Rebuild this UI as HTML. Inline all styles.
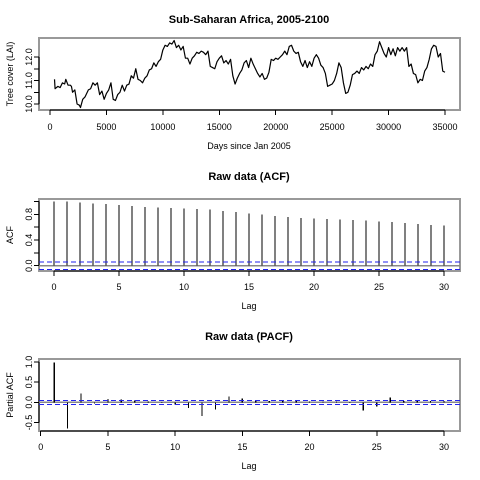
<!DOCTYPE html>
<html><head><meta charset="utf-8"><style>
html,body{margin:0;padding:0;background:#fff}
svg{display:block;font-family:"Liberation Sans",Arial,sans-serif}
line{shape-rendering:crispEdges}
</style></head><body>
<svg id="chart" width="480" height="480" viewBox="0 0 480 480" xmlns="http://www.w3.org/2000/svg"></svg>
<script>
// ---- data ----
const tsDays = [400,450,700,900,1100,1300,1400,1600,1800,1900,2000,2200,2400,2600,2700,2900,3100,3400,3600,3800,4000,4200,4400,4600,4800,5000,5200,5400,5600,5800,6000,6200,6400,6600,6800,7000,7200,7400,7600,7800,8000,8200,8400,8600,8800,9000,9200,9400,9600,9800,10000,10200,10400,10600,10800,11000,11200,11400,11600,11800,12000,12200,12400,12600,12800,13000,13200,13400,13600,13800,14000,14200,14400,14600,14800,15000,15200,15400,15600,15800,16000,16200,16400,16600,16800,17000,17200,17400,17600,17800,18000,18200,18400,18600,18800,19000,19200,19400,19600,19800,20000,20200,20400,20600,20800,21000,21200,21400,21600,21800,22000,22200,22400,22600,22800,23000,23200,23400,23600,23800,24000,24200,24400,24600,24800,25000,25200,25400,25600,25800,26000,26200,26400,26600,26800,27000,27200,27400,27600,27800,28000,28200,28400,28600,28800,29000,29200,29400,29600,29800,30000,30200,30400,30600,30800,31000,31200,31400,31600,31800,32000,32200,32400,32600,32800,33000,33200,33400,33600,33800,34000,34200,34400,34600,34800,35000];
const tsValues = [11.05,10.65,10.75,10.7,10.9,10.85,11.05,10.8,10.8,10.75,10.5,10.6,10.0,9.95,9.85,10.2,10.3,10.6,10.65,10.9,10.8,10.9,10.4,10.55,10.2,10.45,10.6,10.9,10.2,10.15,10.4,10.5,10.8,10.55,10.8,10.85,11.2,11.1,11.5,11.05,11.0,10.9,11.1,11.2,11.45,11.5,11.75,11.6,11.8,11.9,12.3,12.5,12.45,12.6,12.55,12.7,12.4,12.5,12.3,12.45,11.95,11.95,11.7,11.95,12.05,12.2,12.15,12.25,12.2,12.1,12.25,11.6,11.55,11.5,11.8,11.95,12.05,11.75,11.85,11.7,11.9,11.2,10.85,11.1,11.3,11.45,11.75,11.85,11.55,11.95,11.7,11.5,11.3,11.15,11.3,11.05,11.1,11.35,11.9,11.85,11.95,11.9,12.0,12.1,12.25,12.1,12.45,12.5,12.25,12.15,12.2,11.8,11.6,11.85,11.55,11.8,11.6,11.95,12.1,11.95,11.65,11.55,11.3,10.75,10.8,10.85,11.0,11.3,11.75,11.55,10.9,10.45,10.5,10.8,11.25,11.3,11.4,11.3,11.55,11.45,11.6,11.5,11.7,11.6,12.1,12.25,12.65,12.4,12.15,12.0,12.4,12.1,12.35,12.05,12.4,12.25,12.4,12.25,12.4,11.6,11.7,11.3,11.25,10.9,11.05,11.0,11.4,11.55,11.9,12.35,12.5,12.45,12.0,12.15,11.4,11.35];
const tsXTicks = [0,5000,10000,15000,20000,25000,30000,35000];
const tsYTicks = [10.0,10.5,11.0,11.5,12.0];
const tsYLabels = ["10.0","11.0","12.0"];

const acfLags = [0,1,2,3,4,5,6,7,8,9,10,11,12,13,14,15,16,17,18,19,20,21,22,23,24,25,26,27,28,29,30];
const acfValues = [1.0,0.997,0.987,0.971,0.961,0.945,0.93,0.914,0.904,0.899,0.894,0.883,0.873,0.852,0.836,0.816,0.795,0.774,0.758,0.743,0.738,0.727,0.722,0.712,0.706,0.691,0.681,0.665,0.649,0.634,0.629];
const acfCI = [0.06,-0.06];
const acfYTicks = [0,0.2,0.4,0.6,0.8,1.0];
const acfYLabels = ["0.0","0.4","0.8"];

const pacfLags = [1,2,3,4,5,6,7,8,9,10,11,12,13,14,15,16,17,18,19,20,21,22,23,24,25,26,27,28,29,30];
const pacfValues = [0.99,-0.65,0.22,-0.03,0.08,0.07,0.04,0.02,0.01,-0.06,-0.14,-0.34,-0.18,0.15,0.1,0.03,0.03,0.03,0.06,0.02,0.02,0.02,0.01,-0.2,-0.1,0.12,0.03,0.03,0.03,0.03];
const pacfCI = [0.05,-0.06];
const pacfYTicks = [-0.5,0,0.5,1.0];
const pacfYLabels = ["-0.5","0.0","0.5","1.0"];
const lagTicks = [0,5,10,15,20,25,30];

// ---- drawing ----
const svg = document.getElementById('chart');
const NS = 'http://www.w3.org/2000/svg';
function mk(tag, attrs, parent){const e=document.createElementNS(NS,tag);for(const k in attrs)e.setAttribute(k,attrs[k]);(parent||svg).appendChild(e);return e;}
function txt(s, x, y, size, opts, parent){
  const t=mk('text',Object.assign({x:x,y:y,'font-size':size,'text-anchor':'middle','dominant-baseline':'central',fill:'#000'},opts||{}),parent);
  t.textContent=s;return t;
}
const L=39,R=460;

function panel(name, title, titleY, top, bottom, xmin, xmax, ymin, ymax, xTicks, xLabelY, xTitle, xTitleY, yTicks, yLabels, yTitle){
  const g=mk('g',{});
  
  
  const xs=v=>xmin.px+(v-xmin.v)*(xmax.px-xmin.px)/(xmax.v-xmin.v);
  const ys=v=>ymin.px+(v-ymin.v)*(ymax.px-ymin.px)/(ymax.v-ymin.v);
  const t=txt(title,249,titleY,11,{'font-weight':'bold'},g);
  
  
  const box=mk('rect',{x:L,y:top,width:R-L,height:bottom-top,fill:'none',stroke:'#999','stroke-width':2},g);
  
  
  const xa=mk('g',{},g);
  
  
  mk('line',{x1:xs(xTicks[0]),x2:xs(xTicks[xTicks.length-1]),y1:bottom,y2:bottom,stroke:'#000','stroke-width':1},xa);
  xTicks.forEach(v=>{
    mk('line',{x1:xs(v),x2:xs(v),y1:bottom,y2:bottom+5,stroke:'#000','stroke-width':1},xa);
    const l=txt(String(v),xs(v),xLabelY,9,{},xa);
    
    
  });
  const xt=txt(xTitle,249,xTitleY,9,{},g);
  
  
  const ya=mk('g',{},g);
  
  
  mk('line',{x1:L,x2:L,y1:ys(yTicks[0]),y2:ys(yTicks[yTicks.length-1]),stroke:'#000','stroke-width':1},ya);
  yTicks.forEach(v=>{
    mk('line',{x1:L-5,x2:L,y1:ys(v),y2:ys(v),stroke:'#000','stroke-width':1},ya);
  });
  yLabels.forEach(s=>{
    const y=ys(parseFloat(s));
    const l=txt(s,29,y,9,{transform:'rotate(-90 29 '+y+')'},ya);
    
    
  });
  const cy=(top+bottom)/2;
  const yt=txt(yTitle,10,cy,9,{transform:'rotate(-90 10 '+cy+')'},g);
  
  
  return {g,xs,ys};
}

const p1=panel('time-series-panel','Sub-Saharan Africa, 2005-2100',20,38,110,{v:0,px:50},{v:35000,px:445},{v:10,px:104},{v:12,px:57},tsXTicks,127,'Days since Jan 2005',146,tsYTicks,tsYLabels,'Tree cover (LAI)');
const pts=tsDays.map((d,i)=>p1.xs(d).toFixed(2)+','+p1.ys(tsValues[i]).toFixed(2)).join(' ');
const line=mk('polyline',{points:pts,fill:'none',stroke:'#000','stroke-width':1.2,'stroke-linejoin':'round'},p1.g);



const p2=panel('acf-panel','Raw data (ACF)',177,199,271,{v:0,px:54},{v:30,px:444},{v:0,px:265.7},{v:0.8,px:214.3},lagTicks,287,'Lag',306,acfYTicks,acfYLabels,'ACF');
mk('line',{x1:L,x2:R,y1:p2.ys(0),y2:p2.ys(0),stroke:'#888','stroke-width':1.5},p2.g);
acfLags.forEach((lag,i)=>{
  const b=mk('line',{x1:p2.xs(lag),x2:p2.xs(lag),y1:p2.ys(0),y2:p2.ys(acfValues[i]),stroke:'#000','stroke-width':1.3},p2.g);
  
  
});
acfCI.forEach(c=>{
  const d=mk('line',{x1:L,x2:R,y1:p2.ys(c),y2:p2.ys(c),stroke:'#2222ee','stroke-width':1,'stroke-dasharray':'5,3'},p2.g);
  
  
});

const p3=panel('pacf-panel','Raw data (PACF)',337,359,431,{v:0,px:40.7},{v:30,px:444},{v:0,px:402.3},{v:1,px:362},lagTicks,447,'Lag',466,pacfYTicks,pacfYLabels,'Partial ACF');
mk('line',{x1:L,x2:R,y1:p3.ys(0),y2:p3.ys(0),stroke:'#888','stroke-width':1.5},p3.g);
pacfLags.forEach((lag,i)=>{
  const b=mk('line',{x1:p3.xs(lag),x2:p3.xs(lag),y1:p3.ys(0),y2:p3.ys(pacfValues[i]),stroke:'#000','stroke-width':1.3},p3.g);
  
  
});
pacfCI.forEach(c=>{
  const d=mk('line',{x1:L,x2:R,y1:p3.ys(c),y2:p3.ys(c),stroke:'#2222ee','stroke-width':1,'stroke-dasharray':'5,3'},p3.g);
  
  
});
</script>
</body></html>
